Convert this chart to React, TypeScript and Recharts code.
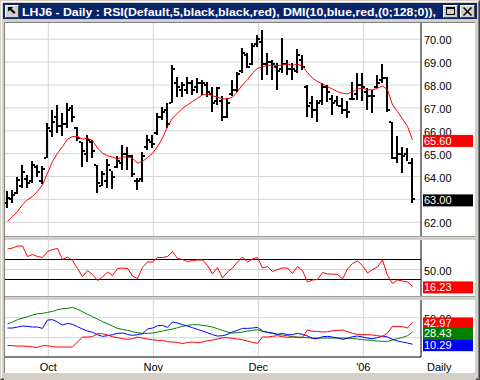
import React from "react";
import { Bar, CartesianGrid, ComposedChart, Line, ReferenceLine, XAxis, YAxis } from "recharts";

// --- price bars (one per trading day, Sep 21 '05 .. Jan '06) ---
const highs = [
  63.35, 63.42, 64.0, 64.51, 64.08, 64.66, 64.51, 64.44, 66.33, 66.91,
  67.13, 66.77, 67.21, 67.13, 66.16, 65.53, 65.82, 65.6, 64.51, 64.22,
  64.76, 64.22, 64.88, 65.39, 65.31, 64.95, 63.93, 65.09, 65.82, 65.82,
  66.77, 67.03, 67.21, 68.88, 68.37, 68.15, 68.37, 68.22, 68.3, 68.22,
  68.15, 67.93, 67.93, 67.5, 67.42, 68.22, 68.59, 69.61, 69.39, 69.83,
  70.19, 70.41, 69.39, 69.1, 68.95, 70.04, 69.1, 68.95, 69.56, 69.32,
  68.01, 67.5, 67.35, 68.08, 68.01, 67.57, 67.5, 67.42, 67.28, 68.15,
  68.52, 68.52, 67.86, 67.79, 68.44, 68.92, 68.37, 66.4, 65.75, 65.31,
  65.24, 64.8,
];
const lows = [
  62.62, 62.87, 63.27, 63.49, 63.49, 63.71, 64.0, 63.64, 64.8, 65.75,
  65.9, 65.75, 66.11, 66.4, 65.53, 64.44, 64.66, 64.8, 63.27, 63.57,
  63.49, 63.42, 64.37, 64.29, 64.29, 64.0, 63.42, 63.78, 65.17, 65.24,
  65.82, 66.48, 66.11, 67.21, 67.5, 67.5, 67.64, 67.57, 67.64, 67.57,
  67.5, 66.84, 67.13, 66.4, 66.55, 67.5, 67.71, 68.52, 68.73, 68.88,
  69.68, 68.22, 68.44, 68.22, 67.79, 68.52, 68.44, 68.22, 68.52, 68.66,
  66.62, 66.55, 66.4, 67.13, 67.28, 66.7, 67.06, 66.7, 66.55, 67.35,
  67.35, 67.28, 66.91, 66.77, 67.86, 68.08, 66.84, 64.8, 64.58, 64.18,
  64.66, 62.84,
];
const opens = [
  62.85, 63.0, 63.3, 63.6, 63.9, 63.8, 64.4, 63.8, 64.8, 66.0,
  66.6, 66.2, 66.3, 67.0, 66.1, 65.5, 65.0, 65.5, 64.5, 63.6,
  63.8, 64.3, 64.4, 64.6, 65.0, 64.9, 63.8, 63.9, 65.3, 65.5,
  65.9, 66.6, 66.9, 67.2, 68.1, 67.8, 67.8, 68.1, 67.9, 68.1,
  68.0, 67.6, 67.3, 67.3, 66.6, 67.6, 67.8, 68.6, 69.3, 68.9,
  69.8, 69.9, 68.9, 69.0, 68.8, 68.7, 68.9, 68.7, 68.6, 69.1,
  67.9, 67.2, 66.9, 67.3, 67.9, 67.4, 67.3, 67.1, 66.9, 67.4,
  67.6, 68.0, 67.7, 67.5, 67.9, 68.2, 68.3, 66.4, 64.8, 65.0,
  65.0, 64.6,
];
const closes = [
  63.05, 63.2, 63.85, 64.2, 63.7, 64.5, 64.2, 64.35, 66.1, 66.4,
  66.2, 66.3, 66.9, 66.6, 65.7, 65.1, 65.6, 65.1, 63.7, 64.1,
  64.5, 64.0, 64.7, 65.0, 64.9, 64.1, 63.8, 64.9, 65.6, 65.4,
  66.6, 66.8, 66.3, 68.7, 67.9, 68.0, 68.1, 67.8, 68.1, 68.1,
  67.7, 67.2, 67.85, 66.6, 67.2, 67.8, 68.5, 69.4, 68.8, 69.7,
  70.0, 68.9, 69.0, 68.9, 68.6, 68.9, 68.7, 68.7, 69.3, 68.8,
  67.1, 66.9, 67.2, 67.9, 67.7, 67.2, 67.1, 66.9, 66.8, 67.4,
  68.0, 67.9, 67.5, 67.5, 68.1, 68.3, 66.9, 64.8, 65.0, 64.9,
  64.6, 63.0,
];
const maValues = [
  62.04, 62.26, 62.47, 62.77, 62.98, 63.13, 63.35, 63.64, 64.15, 64.66,
  65.02, 65.31, 65.63, 65.75, 65.75, 65.63, 65.68, 65.57, 65.24, 65.02,
  64.91, 64.85, 64.76, 64.85, 64.85, 64.8, 64.58, 64.66, 64.83, 65.02,
  65.31, 65.68, 66.19, 66.55, 66.77, 66.99, 67.13, 67.28, 67.42, 67.57,
  67.61, 67.53, 67.47, 67.39, 67.39, 67.47, 67.71, 68.01, 68.22, 68.52,
  68.73, 68.78, 68.88, 68.84, 68.85, 68.88, 68.92, 68.85, 68.92, 68.81,
  68.54, 68.3, 68.15, 68.05, 67.93, 67.82, 67.71, 67.64, 67.61, 67.71,
  67.82, 67.86, 67.79, 67.79, 67.86, 67.96, 67.79, 67.13, 66.84, 66.51,
  66.19, 65.6,
];

// --- RSI(5) ---
const rsiValues = [
  91, 93, 97, 97, 76, 80, 76, 74, 86, 90,
  92, 70, 75, 68, 52, 36, 48, 40, 28, 35,
  45, 38, 52, 53, 52, 37, 32, 54, 65, 65,
  74, 74, 76, 86, 72, 70, 66, 68, 69, 69,
  58, 41, 54, 33, 45, 53, 65, 75, 65, 71,
  74, 53, 56, 46, 50, 53, 53, 42, 56, 48,
  25, 29, 30, 44, 41, 41, 40, 31, 51, 62,
  67, 58, 43, 50, 55, 69, 38, 22, 29, 27,
  25, 16.23,
];

// --- DMI(10): +DI blue, -DI red, ADX green ---
const diPlus = [
  34.5, 34.5, 36, 37.5, 37, 36, 36, 34, 46.5, 47,
  43.5, 39, 41.5, 40, 36.5, 33, 30, 28, 24.5, 22,
  23, 24.5, 26.5, 27, 25, 23.5, 24.5, 26, 33, 34.5,
  38, 38.5, 35.5, 43.5, 42, 39.5, 37.5, 35, 32.5, 30,
  27.5, 24.5, 22.5, 23, 25, 28.5, 31, 34, 34, 34.5,
  35.5, 30, 28, 27, 25, 26.5, 24.5, 24.5, 26.5, 25,
  22.5, 19, 18.5, 21.5, 22, 21, 19.5, 17.5, 19, 21.5,
  22.5, 21, 19.5, 18.5, 20, 22.5, 21, 17.5, 15, 13.5,
  12, 10.29,
];
const diMinus = [
  8.5, 8, 7.5, 7.5, 7, 6, 5.5, 8, 8, 6.5,
  6, 6, 6, 6, 13.5, 21, 21, 21.5, 26, 26,
  24, 21.5, 20, 18.5, 17.5, 18.5, 21, 19.5, 18, 17,
  16, 16, 14, 13.5, 13, 11, 13, 13.5, 12.5, 13.5,
  15.5, 16.5, 18, 20, 20, 19, 18, 17, 15, 13,
  11.5, 21, 21, 22, 23, 21.5, 20.5, 21, 20.5, 20.5,
  31.5, 29.5, 29.5, 28.5, 29, 30.5, 31, 31.5, 29, 26.5,
  25, 24.5, 24.5, 24, 23, 22, 27, 37, 37, 36.5,
  34.5, 42.97,
];
const adxValues = [
  40.5, 43.5, 47, 49.5, 51.5, 54, 56, 56.5, 58, 59.5,
  62, 63.5, 64, 65.5, 62.5, 59, 55, 51.5, 48, 44,
  41, 37.5, 34, 32.5, 31, 29, 27.5, 26.5, 26.5, 27,
  28.5, 30, 31.5, 33, 35, 37, 38.5, 39.5, 39.5, 38.5,
  37.5, 36, 33.5, 31, 28.5, 27, 27.5, 28.5, 30, 31,
  32, 29.5, 28, 26.5, 25, 24, 23, 21.5, 21, 20.5,
  20, 19.5, 19.5, 19.5, 19.5, 19.5, 19.5, 19.5, 19.5, 19,
  18, 17, 16.5, 16, 15, 14.5, 14.5, 16.5, 18.5, 20.5,
  23, 28.43,
];

const priceTicks = [62, 63, 64, 65, 66, 67, 68, 69, 70];
const monthTicks = [8.16, 29.16, 50.16, 71.16]; // first session of each month
const monthLabels = ["Oct", "Nov", "Dec", "'06"];
const title = "LHJ6 - Daily : RSI(Default,5,black,black,red), DMI(10,blue,red,(0;128;0)),";

const FONT = "'Liberation Sans', Arial, sans-serif";
const GRID = "#d4d4d4";
const X_DOMAIN = [-0.5, 82.7];

const rows = highs.map((h, i) => ({
  i,
  range: [lows[i], h],
  high: h,
  low: lows[i],
  open: opens[i],
  close: closes[i],
  ma: maValues[i],
  rsi: rsiValues[i],
  plus: diPlus[i],
  minus: diMinus[i],
  adx: adxValues[i],
}));

const last = rows[rows.length - 1];

/** OHLC bar: high-low stem, open tick left, close tick right. */
function OhlcShape(props: any) {
  const { x, y, width, height, payload } = props;
  if (x == null || y == null) return null;
  const top = Math.min(y, y + height);
  const h = Math.abs(height);
  const cx = Math.round(x + width / 2);
  const span = payload.high - payload.low;
  const at = (v: number) => Math.round(top + (span ? ((payload.high - v) / span) * h : 0));
  return (
    <g fill="#000">
      <rect x={cx - 1} y={Math.round(top)} width={2} height={Math.max(Math.round(h), 1)} />
      <rect x={cx - 3} y={at(payload.open) - 1} width={2} height={2} />
      <rect x={cx + 1} y={at(payload.close) - 1} width={2} height={2} />
    </g>
  );
}

/** Right axis tick: plain labels first, then coloured "last value" boxes. */
function valueTick(labelCount: number, boxColors: string[], boxH: number, hideLabel = false) {
  return (p: any) => {
    const { x, y, payload, index } = p;
    const txt = Number(payload.value).toFixed(2);
    if (index < labelCount) {
      if (hideLabel) return <g />;
      return (
        <text x={x} y={y + 5} fontSize={11} fontFamily={FONT} fill="#000">
          {txt}
        </text>
      );
    }
    return (
      <g>
        <rect x={x - 1} y={y - boxH / 2 + 1} width={50} height={boxH} fill={boxColors[index - labelCount]} />
        <text x={x} y={y + 5} fontSize={11} fontFamily={FONT} fill="#fff">
          {txt}
        </text>
      </g>
    );
  };
}

function Chrome() {
  return (
    <svg width={480} height={380} style={{ position: "absolute", left: 0, top: 0 }}>
      <rect x={0} y={0} width={480} height={380} fill="#d4d0c8" />
      <path d="M0.5 379.5 V0.5 H479.5" stroke="#d4d0c8" fill="none" />
      <path d="M1.5 378.5 V1.5 H478.5" stroke="#fff" fill="none" />
      <path d="M0.5 379.5 H479.5 V0.5" stroke="#404040" fill="none" />
      <path d="M1.5 378.5 H478.5 V1.5" stroke="#808080" fill="none" />
      {/* title bar */}
      <rect x={3} y={3} width={474} height={16} fill="#0a246a" />
      <g>
        <rect x={5} y={5} width={14} height={13} fill="#d4d0c8" />
        <path d="M5.5 17.5 V5.5 H18.5" stroke="#fff" fill="none" />
        <path d="M5.5 17.5 H18.5 V5.5" stroke="#404040" fill="none" />
        <path d="M8 7 H13 L11.5 8.5 L15.5 12.5 L14 14 L10 10 L8 11.5 Z" fill="#000" />
      </g>
      <text x={22} y={16} fontSize={11} fontWeight="bold" fontFamily={FONT} fill="#fff" textLength={414} lengthAdjust="spacingAndGlyphs">
        {title}
      </text>
      <g>
        <rect x={443} y={5} width={15} height={13} fill="#d4d0c8" />
        <path d="M443.5 17.5 V5.5 H457.5" stroke="#fff" fill="none" />
        <path d="M443.5 17.5 H457.5 V5.5" stroke="#404040" fill="none" />
        <rect x={446.5} y={7.5} width={8} height={7} fill="none" stroke="#000" />
        <rect x={446} y={7} width={9} height={2} fill="#000" />
      </g>
      <g>
        <rect x={460} y={5} width={15} height={13} fill="#d4d0c8" />
        <path d="M460.5 17.5 V5.5 H474.5" stroke="#fff" fill="none" />
        <path d="M460.5 17.5 H474.5 V5.5" stroke="#404040" fill="none" />
        <path d="M463.5 7.5 L471.5 15.5 M471.5 7.5 L463.5 15.5" stroke="#000" strokeWidth={1.6} />
      </g>
      {/* client area */}
      <rect x={4} y={22} width={471} height={352} fill="#fff" />
      <path d="M4.5 373.5 V22.5 H475" stroke="#808080" fill="none" />
      <rect x={5} y={236} width={470} height={4} fill="#d4d0c8" />
      <line x1={5} x2={475} y1={236.5} y2={236.5} stroke="#a0a0a0" />
      <rect x={5} y={296} width={470} height={4} fill="#d4d0c8" />
      <line x1={5} x2={475} y1={296.5} y2={296.5} stroke="#a0a0a0" />
      <rect x={4} y={373} width={472} height={7} fill="#d4d0c8" />
    </svg>
  );
}

const abs = (top: number): React.CSSProperties => ({ position: "absolute", left: 5, top });

export default function App() {
  return (
    <div style={{ position: "absolute", left: 0, top: 0, width: 480, height: 380, overflow: "hidden", fontFamily: FONT }}>
      <Chrome />

      {/* price panel */}
      <div style={abs(23)}>
        <ComposedChart width={469} height={213} data={rows} margin={{ top: 0, right: 0, bottom: 0, left: 0 }}>
          <CartesianGrid stroke={GRID} horizontalValues={priceTicks} verticalValues={monthTicks} />
          <XAxis dataKey="i" type="number" domain={X_DOMAIN} allowDataOverflow hide />
          <YAxis
            orientation="right"
            width={53}
            domain={[61.4, 70.71]}
            allowDataOverflow
            ticks={[...priceTicks, last.close, last.ma]}
            interval={0}
            tickSize={0}
            tickMargin={3}
            tickLine={false}
            axisLine={{ stroke: "#000" }}
            tick={valueTick(priceTicks.length, ["#000", "#ff0000"], 12)}
          />
          <Bar dataKey="range" barSize={4} shape={<OhlcShape />} isAnimationActive={false} />
          <Line dataKey="ma" type="linear" stroke="#ff0000" strokeWidth={1} dot={false} isAnimationActive={false} />
        </ComposedChart>
      </div>

      {/* RSI panel */}
      <div style={abs(240)}>
        <ComposedChart width={469} height={56} data={rows} margin={{ top: 0, right: 0, bottom: 0, left: 0 }}>
          <CartesianGrid stroke={GRID} horizontalValues={[50]} verticalValues={monthTicks} />
          <XAxis dataKey="i" type="number" domain={X_DOMAIN} allowDataOverflow hide />
          <YAxis
            orientation="right"
            width={53}
            domain={[-3, 109]}
            allowDataOverflow
            ticks={[50, last.rsi]}
            interval={0}
            tickSize={0}
            tickMargin={3}
            tickLine={false}
            axisLine={{ stroke: "#000" }}
            tick={valueTick(1, ["#ff0000"], 12)}
          />
          <ReferenceLine y={70} stroke="#000" />
          <ReferenceLine y={30} stroke="#000" />
          <Line dataKey="rsi" type="linear" stroke="#ff0000" strokeWidth={1} dot={false} isAnimationActive={false} />
        </ComposedChart>
      </div>

      {/* DMI panel */}
      <div style={abs(300)}>
        <ComposedChart width={469} height={73} data={rows} margin={{ top: 0, right: 0, bottom: 0, left: 0 }}>
          <CartesianGrid stroke={GRID} horizontalValues={[50, 20]} verticalValues={monthTicks} />
          <XAxis
            dataKey="i"
            type="number"
            domain={X_DOMAIN}
            allowDataOverflow
            ticks={monthTicks}
            interval={0}
            height={16}
            tickSize={0}
            tickMargin={6}
            tickLine={false}
            axisLine={{ stroke: "#000" }}
            tickFormatter={(_v: number, idx: number) => monthLabels[idx]}
            tick={{ fontSize: 11, fill: "#000", fontFamily: FONT }}
          />
          <YAxis
            orientation="right"
            width={53}
            domain={[-8.95, 76.55]}
            allowDataOverflow
            ticks={[50, last.minus, last.adx, last.plus]}
            interval={0}
            tickSize={0}
            tickMargin={3}
            tickLine={false}
            axisLine={{ stroke: "#000" }}
            tick={valueTick(1, ["#ff0000", "#008000", "#0000ff"], 12)}
          />
          <Line dataKey="adx" type="linear" stroke="#008000" strokeWidth={1} dot={false} isAnimationActive={false} />
          <Line dataKey="plus" type="linear" stroke="#0000ff" strokeWidth={1} dot={false} isAnimationActive={false} />
          <Line dataKey="minus" type="linear" stroke="#ff0000" strokeWidth={1} dot={false} isAnimationActive={false} />
        </ComposedChart>
      </div>

      <div style={{ position: "absolute", left: 427, top: 361, fontSize: 11, fontFamily: FONT, color: "#000" }}>Daily</div>
    </div>
  );
}
